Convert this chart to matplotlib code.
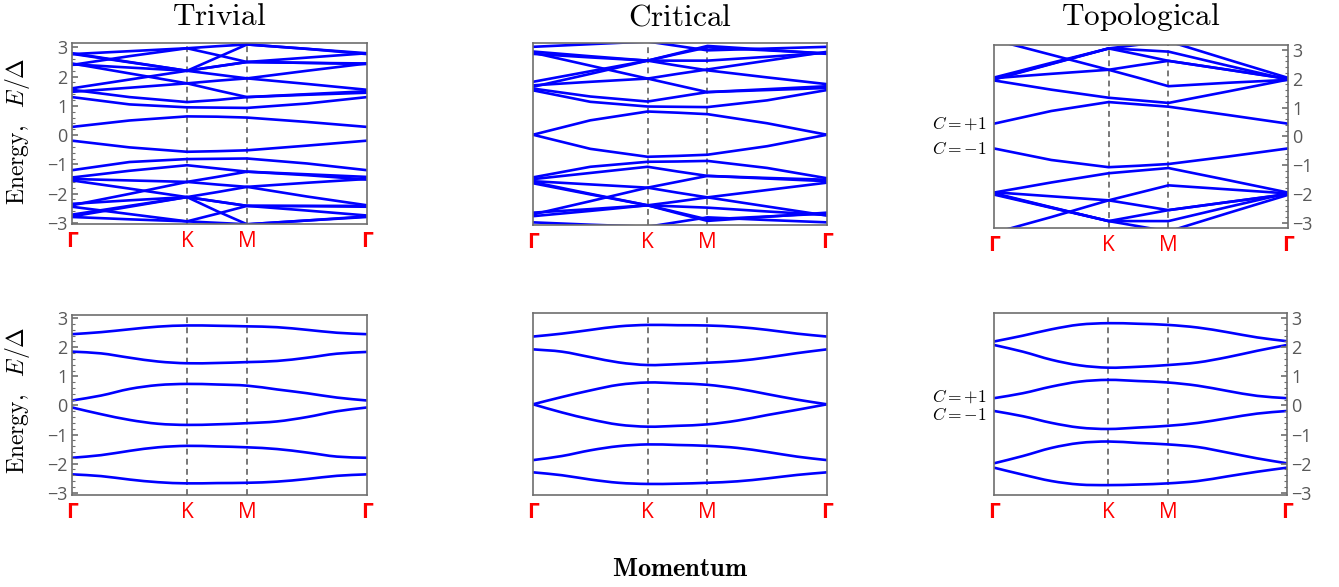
import matplotlib.pyplot as plt
from matplotlib.ticker import MultipleLocator
from matplotlib.path import Path
from matplotlib.patches import PathPatch

plt.rcParams['mathtext.fontset'] = 'cm'
plt.rcParams['font.family'] = ['Open Sans', 'DejaVu Sans']

# high-symmetry points of the path Γ-K-M-Γ
sym_labels = ['Γ', 'K', 'M', 'Γ']
sym_k = [0.0, 1.0, 1.522, 2.565]

# k samples: coarse for the full spectrum, finer for the low-energy bands
k_full = [0.0, 0.5, 1.0, 1.261, 1.522, 2.043, 2.565]
k_low = [0.0, 0.252, 0.504, 0.748, 1.0, 1.261, 1.522, 1.783, 2.043, 2.304, 2.565]

# full spectrum, trivial phase
trivial_full = [
    [0.28, 0.50, 0.64, 0.63, 0.60, 0.45, 0.28],
    [1.30, 1.05, 0.95, 0.94, 0.93, 1.08, 1.30],
    [1.55, 1.30, 1.13, 1.20, 1.30, 1.38, 1.45],
    [1.48, 1.62, 1.77, 1.53, 1.30, 1.40, 1.50],
    [1.60, 1.90, 2.20, 2.07, 1.94, 1.75, 1.55],
    [2.42, 2.31, 2.20, 2.35, 2.50, 2.47, 2.45],
    [2.45, 2.11, 1.77, 1.86, 1.94, 2.20, 2.45],
    [2.40, 2.70, 2.97, 2.74, 2.50, 2.47, 2.43],
    [2.80, 2.50, 2.20, 2.35, 2.50, 2.65, 2.80],
    [2.78, 2.49, 2.20, 2.65, 3.10, 2.95, 2.80],
    [2.77, 2.87, 2.97, 3.04, 3.10, 2.95, 2.77],
    [-0.19, -0.42, -0.57, -0.55, -0.52, -0.36, -0.19],
    [-1.20, -0.92, -0.82, -0.81, -0.80, -0.97, -1.20],
    [-1.45, -1.22, -1.03, -1.14, -1.25, -1.34, -1.43],
    [-1.50, -1.55, -1.60, -1.43, -1.25, -1.37, -1.52],
    [-1.55, -1.83, -2.12, -1.95, -1.77, -1.63, -1.50],
    [-2.35, -2.23, -2.12, -2.27, -2.42, -2.42, -2.42],
    [-2.40, -2.01, -1.60, -1.69, -1.77, -2.10, -2.40],
    [-2.45, -2.70, -2.95, -2.69, -2.42, -2.43, -2.45],
    [-2.72, -2.42, -2.12, -2.27, -2.42, -2.58, -2.75],
    [-2.78, -2.45, -2.12, -2.60, -3.05, -2.92, -2.78],
    [-2.80, -2.88, -2.95, -3.00, -3.05, -2.92, -2.80],
]

# full spectrum, critical point
critical_full = [
    [0.03, 0.52, 0.82, 0.78, 0.73, 0.42, 0.03],
    [1.54, 1.15, 0.99, 0.98, 0.97, 1.20, 1.55],
    [1.60, 1.33, 1.16, 1.32, 1.48, 1.55, 1.62],
    [1.71, 1.83, 1.94, 1.71, 1.48, 1.58, 1.68],
    [1.83, 2.19, 2.55, 2.38, 2.22, 1.98, 1.75],
    [2.78, 2.66, 2.55, 2.78, 3.00, 2.90, 2.80],
    [2.82, 2.38, 1.94, 2.10, 2.25, 2.55, 2.85],
    [2.86, 2.70, 2.55, 2.55, 2.55, 2.68, 2.82],
    [1.66, 2.10, 2.55, 2.80, 3.05, 2.92, 2.78],
    [3.02, 3.11, 3.20, 3.05, 2.90, 2.96, 3.02],
    [0.03, -0.45, -0.72, -0.69, -0.65, -0.36, 0.03],
    [-1.42, -1.06, -0.89, -0.88, -0.86, -1.10, -1.45],
    [-1.48, -1.27, -1.06, -1.22, -1.37, -1.44, -1.50],
    [-1.55, -1.66, -1.77, -1.57, -1.37, -1.46, -1.55],
    [-1.62, -2.00, -2.37, -2.24, -2.10, -1.85, -1.60],
    [-2.62, -2.50, -2.37, -2.61, -2.85, -2.75, -2.65],
    [-2.68, -2.23, -1.77, -1.94, -2.10, -2.41, -2.72],
    [-2.74, -2.56, -2.37, -2.41, -2.45, -2.58, -2.70],
    [-1.58, -1.98, -2.37, -2.64, -2.90, -2.76, -2.62],
    [-2.95, -3.03, -3.10, -2.94, -2.78, -2.87, -2.95],
]

# full spectrum, topological phase
topo_full = [
    [0.44, 0.88, 1.19, 1.11, 1.03, 0.74, 0.44],
    [1.94, 1.62, 1.34, 1.25, 1.16, 1.56, 1.97],
    [1.97, 2.51, 3.05, 3.00, 2.94, 2.45, 1.97],
    [1.99, 2.52, 3.05, 2.84, 2.62, 2.31, 1.99],
    [2.02, 2.17, 2.31, 2.47, 2.62, 2.31, 2.00],
    [2.04, 2.55, 3.05, 3.18, 3.30, 2.66, 2.03],
    [3.35, 2.83, 2.31, 2.03, 1.74, 1.86, 1.96],
    [-0.42, -0.82, -1.07, -1.02, -0.96, -0.70, -0.42],
    [-1.95, -1.60, -1.28, -1.19, -1.10, -1.52, -1.95],
    [-1.97, -2.46, -2.94, -2.94, -2.94, -2.45, -1.97],
    [-1.94, -2.08, -2.22, -2.39, -2.56, -2.28, -2.00],
    [-1.99, -2.47, -2.94, -2.75, -2.56, -2.28, -2.01],
    [-2.02, -2.48, -2.94, -3.12, -3.30, -2.66, -2.03],
    [-3.35, -2.80, -2.22, -1.96, -1.70, -1.84, -1.98],
]

# low-energy bands
trivial_low = [
    [2.45, 2.52, 2.62, 2.71, 2.75, 2.74, 2.72, 2.69, 2.60, 2.50, 2.45],
    [1.85, 1.79, 1.64, 1.51, 1.45, 1.46, 1.49, 1.53, 1.64, 1.78, 1.84],
    [0.17, 0.34, 0.57, 0.70, 0.74, 0.72, 0.68, 0.55, 0.42, 0.27, 0.17],
    [-0.07, -0.30, -0.50, -0.63, -0.67, -0.65, -0.61, -0.55, -0.40, -0.20, -0.07],
    [-1.80, -1.71, -1.56, -1.44, -1.39, -1.41, -1.44, -1.50, -1.62, -1.76, -1.80],
    [-2.37, -2.43, -2.55, -2.64, -2.68, -2.67, -2.66, -2.62, -2.53, -2.42, -2.37],
]
critical_low = [
    [2.37, 2.47, 2.60, 2.72, 2.77, 2.76, 2.75, 2.70, 2.60, 2.47, 2.37],
    [1.93, 1.85, 1.66, 1.48, 1.39, 1.42, 1.47, 1.53, 1.65, 1.80, 1.93],
    [0.04, 0.29, 0.52, 0.71, 0.79, 0.76, 0.71, 0.58, 0.39, 0.20, 0.04],
    [0.04, -0.24, -0.48, -0.66, -0.73, -0.70, -0.65, -0.52, -0.33, -0.15, 0.04],
    [-1.88, -1.74, -1.54, -1.40, -1.34, -1.36, -1.39, -1.46, -1.60, -1.76, -1.88],
    [-2.30, -2.40, -2.55, -2.66, -2.70, -2.69, -2.66, -2.61, -2.51, -2.39, -2.30],
]
topo_low = [
    [2.20, 2.40, 2.62, 2.78, 2.83, 2.81, 2.77, 2.68, 2.52, 2.34, 2.21],
    [2.08, 1.85, 1.57, 1.38, 1.30, 1.33, 1.39, 1.48, 1.66, 1.88, 2.08],
    [0.25, 0.42, 0.65, 0.82, 0.88, 0.84, 0.79, 0.68, 0.50, 0.33, 0.25],
    [-0.19, -0.37, -0.60, -0.76, -0.81, -0.76, -0.70, -0.60, -0.44, -0.28, -0.19],
    [-1.99, -1.74, -1.46, -1.29, -1.24, -1.29, -1.34, -1.43, -1.62, -1.82, -1.99],
    [-2.14, -2.38, -2.60, -2.72, -2.74, -2.72, -2.68, -2.60, -2.44, -2.28, -2.14],
]

W, H = 1339, 587
fig = plt.figure(figsize=(W / 100, H / 100), dpi=100)


def add_panel(x0, x1, y0, y1):
    return fig.add_axes([x0 / W, 1 - y1 / H, (x1 - x0) / W, (y1 - y0) / H])


def smooth_path(x, y):
    # cubic Hermite segments through the sampled points
    n = len(x)
    slope = []
    for i in range(n):
        a, b = max(i - 1, 0), min(i + 1, n - 1)
        slope.append((y[b] - y[a]) / (x[b] - x[a]))
    verts = [(x[0], y[0])]
    codes = [Path.MOVETO]
    for i in range(n - 1):
        h = (x[i + 1] - x[i]) / 3
        verts += [(x[i] + h, y[i] + slope[i] * h),
                  (x[i + 1] - h, y[i + 1] - slope[i + 1] * h),
                  (x[i + 1], y[i + 1])]
        codes += [Path.CURVE4] * 3
    return Path(verts, codes)


def draw_panel(ax, k, bands, ylim, side, smooth):
    for b in bands:
        if smooth:
            ax.add_patch(PathPatch(smooth_path(k, b), fc='none', ec='#0000ff', lw=1.9))
        else:
            ax.plot(k, b, color='#0000ff', lw=1.9, solid_joinstyle='round')
    for kk in sym_k[1:3]:
        ax.axvline(kk, color='#787878', ls=(0, (3, 2.2)), lw=1.4, zorder=0)
    ax.set_xlim(sym_k[0], sym_k[-1])
    ax.set_ylim(*ylim)
    ax.set_xticks(sym_k)
    ax.set_xticklabels(sym_labels)
    for lab, name in zip(ax.get_xticklabels(), sym_labels):
        lab.set_color('#ff0000')
        lab.set_fontsize(15)
        if name == 'Γ':
            lab.set_fontweight('bold')
    ax.tick_params(axis='x', length=0, pad=5)
    for s in ax.spines.values():
        s.set_color('#6e6e6e')
        s.set_linewidth(1.2)
    if side is None:
        ax.set_yticks([])
        return
    ax.set_yticks([-3, -2, -1, 0, 1, 2, 3])
    ax.yaxis.set_minor_locator(MultipleLocator(0.2))
    ax.tick_params(axis='y', which='both', direction='in', colors='#6e6e6e',
                   labelcolor='#595959', labelsize=13, pad=3)
    ax.tick_params(axis='y', which='major', length=4, width=1.2)
    ax.tick_params(axis='y', which='minor', length=2, width=0.8)
    if side == 'right':
        ax.yaxis.tick_right()
        ax.tick_params(axis='y', which='both', direction='in', pad=3)


panels = [
    ((72, 367, 43, 224), k_full, trivial_full, (-3.04, 3.15), 'left', False),
    ((533, 827, 43, 225), k_full, critical_full, (-3.04, 3.15), None, False),
    ((994, 1288, 45, 228), k_full, topo_full, (-3.18, 3.17), 'right', False),
    ((72, 367, 315, 495), k_low, trivial_low, (-3.08, 3.11), 'left', True),
    ((533, 827, 313, 495), k_low, critical_low, (-3.08, 3.18), None, True),
    ((994, 1287, 313, 495), k_low, topo_low, (-3.08, 3.18), 'right', True),
]
for box, k, bands, ylim, side, smooth in panels:
    draw_panel(add_panel(*box), k, bands, ylim, side, smooth)

# column titles
for x, title in [(219, 'Trivial'), (680, 'Critical'), (1141, 'Topological')]:
    fig.text(x / W, 1 - 17 / H, r'$\mathrm{%s}$' % title, ha='center', va='center',
             fontsize=22.5)

# energy axis labels
for yc in (131, 400):
    fig.text(18 / W, 1 - yc / H, r'$\mathrm{Energy,}\ \ E/\Delta$', rotation=90,
             ha='center', va='center', fontsize=17)

# Chern numbers of the bands next to the gap
for y_plus, y_minus in [(124, 149), (397, 415)]:
    fig.text(987 / W, 1 - y_plus / H, r'$C=+1$', ha='right', va='center', fontsize=12.5)
    fig.text(987 / W, 1 - y_minus / H, r'$C=-1$', ha='right', va='center', fontsize=12.5)

fig.text(680 / W, 1 - 569 / H, r'$\mathbf{Momentum}$', ha='center', va='center',
         fontsize=19)

fig.savefig('out.png', dpi=100)
